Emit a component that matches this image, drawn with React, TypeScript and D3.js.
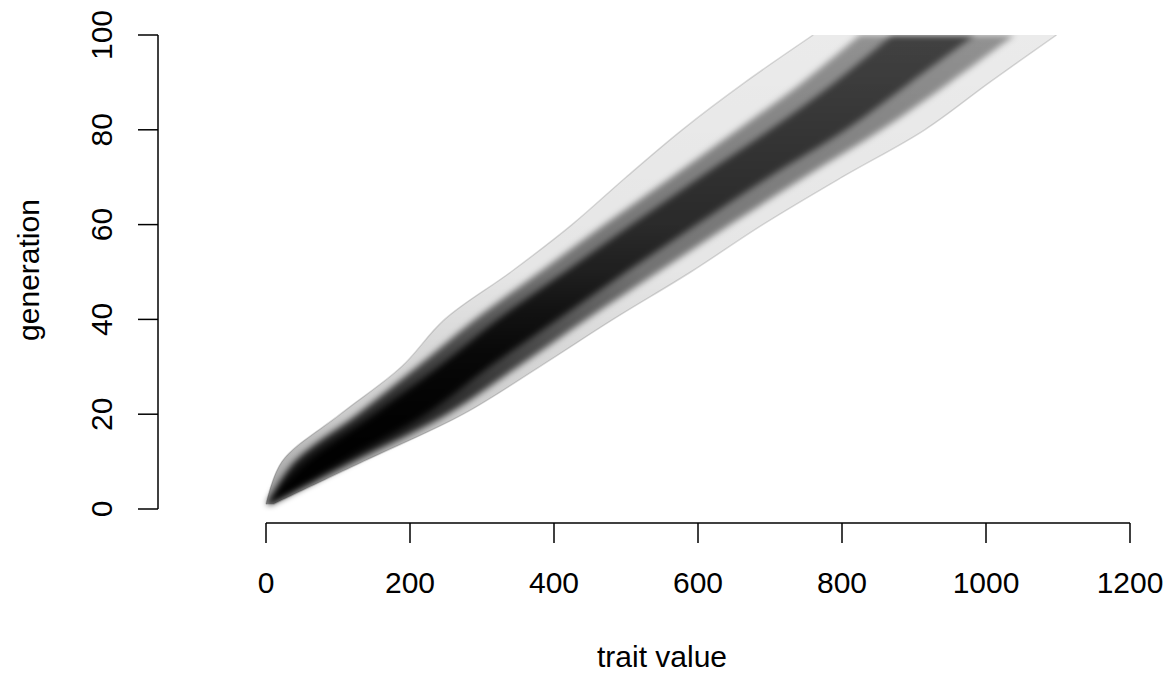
import React, { useRef, useEffect } from "react";
import { select, scaleLinear, area, line, curveCatmullRom } from "d3";

const generations = [1, 10, 20, 30, 40, 50, 60, 70, 80, 90, 100];
// outermost faint lines
const outerLo = [0, 22, 103, 188, 248, 340, 425, 500, 578, 665, 760];
const outerHi = [10, 135, 274, 380, 482, 590, 690, 800, 915, 1005, 1098];
// medium grey part of the band
const midLo = [1, 40, 127, 210, 290, 380, 470, 563, 655, 745, 825];
const midHi = [8, 122, 252, 350, 445, 545, 645, 748, 855, 950, 1040];
// darkest core
const coreLo = [2, 58, 150, 240, 322, 415, 508, 603, 700, 790, 870];
const coreHi = [6, 105, 222, 310, 405, 500, 598, 698, 805, 895, 985];

const xTicks = [0, 200, 400, 600, 800, 1000, 1200];
const yTicks = [0, 20, 40, 60, 80, 100];

const W = 1172;
const H = 675;
const FONT = "'Liberation Sans', Arial, sans-serif";
const FS = 30;

function WalkPlot() {
  const svgRef = useRef(null);

  useEffect(() => {
    document.body.style.margin = "0";
    const svg = select(svgRef.current);
    svg.selectAll("*").remove();

    // R style usr: x -152..1252, y -3.96..103.96
    const x = scaleLinear().domain([0, 1200]).range([266, 1130]);
    const y = scaleLinear().domain([0, 100]).range([509, 35]);

    const defs = svg.append("defs");
    const grads = [
      { id: "gOuter", stops: [[0, 0.4], [0.2, 0.2], [0.5, 0.1], [1, 0.08]] },
      { id: "gMid", stops: [[0, 0.95], [0.25, 0.75], [0.5, 0.5], [1, 0.38]] },
      { id: "gCore", stops: [[0, 1], [0.3, 0.9], [0.6, 0.65], [1, 0.55]] },
    ];
    grads.forEach((g) => {
      const lg = defs
        .append("linearGradient")
        .attr("id", g.id)
        .attr("gradientUnits", "userSpaceOnUse")
        .attr("x1", 0)
        .attr("x2", 0)
        .attr("y1", y(0))
        .attr("y2", y(100));
      g.stops.forEach(([o, a]) => {
        lg.append("stop")
          .attr("offset", o)
          .attr("stop-color", "#000")
          .attr("stop-opacity", a);
      });
    });
    // soften the band edges a little, like overlapping lines
    defs.append("filter").attr("id", "soft")
      .attr("x", "-10%").attr("y", "-10%").attr("width", "120%").attr("height", "120%")
      .append("feGaussianBlur").attr("stdDeviation", 3);
    defs.append("clipPath").attr("id", "plotClip")
      .append("rect").attr("x", 0).attr("y", y(100)).attr("width", W).attr("height", y(0) - y(100) + 10);

    const band = (lo, hi) =>
      area()
        .y((d, i) => y(generations[i]))
        .x0((d, i) => x(lo[i]))
        .x1((d, i) => x(hi[i]))
        .curve(curveCatmullRom)(generations);

    const g = svg.append("g").attr("clip-path", "url(#plotClip)");
    g.append("path").attr("d", band(outerLo, outerHi)).attr("fill", "url(#gOuter)");
    const blurred = g.append("g").attr("filter", "url(#soft)");
    blurred.append("path").attr("d", band(midLo, midHi)).attr("fill", "url(#gMid)");
    blurred.append("path").attr("d", band(coreLo, coreHi)).attr("fill", "url(#gCore)");

    // faint edge lines
    const edge = (vals) =>
      line()
        .x((d, i) => x(vals[i]))
        .y((d, i) => y(generations[i]))
        .curve(curveCatmullRom)(generations);
    [outerLo, outerHi].forEach((v) => {
      g.append("path")
        .attr("d", edge(v))
        .attr("fill", "none")
        .attr("stroke", "rgba(0,0,0,0.14)")
        .attr("stroke-width", 1.5);
    });

    // x axis
    const ax = svg.append("g").attr("stroke", "#000").attr("stroke-width", 1.5);
    ax.append("line")
      .attr("x1", x(xTicks[0])).attr("x2", x(xTicks[xTicks.length - 1]))
      .attr("y1", 523).attr("y2", 523);
    xTicks.forEach((t) => {
      ax.append("line").attr("x1", x(t)).attr("x2", x(t)).attr("y1", 523).attr("y2", 543);
      svg.append("text")
        .attr("x", x(t)).attr("y", 593)
        .attr("text-anchor", "middle")
        .attr("font-family", FONT).attr("font-size", FS)
        .text(t);
    });

    // y axis
    ax.append("line")
      .attr("x1", 158).attr("x2", 158)
      .attr("y1", y(yTicks[0])).attr("y2", y(yTicks[yTicks.length - 1]));
    yTicks.forEach((t) => {
      ax.append("line").attr("x1", 138).attr("x2", 158).attr("y1", y(t)).attr("y2", y(t));
      svg.append("text")
        .attr("transform", `translate(112,${y(t)}) rotate(-90)`)
        .attr("text-anchor", "middle")
        .attr("font-family", FONT).attr("font-size", FS)
        .text(t);
    });

    svg.append("text")
      .attr("x", 662).attr("y", 667)
      .attr("text-anchor", "middle")
      .attr("font-family", FONT).attr("font-size", FS)
      .text("trait value");
    svg.append("text")
      .attr("transform", `translate(39,270) rotate(-90)`)
      .attr("text-anchor", "middle")
      .attr("font-family", FONT).attr("font-size", FS)
      .text("generation");
  }, []);

  return <svg ref={svgRef} width={W} height={H} style={{ display: "block", background: "#fff" }} />;
}

export default function App() {
  return <WalkPlot />;
}
